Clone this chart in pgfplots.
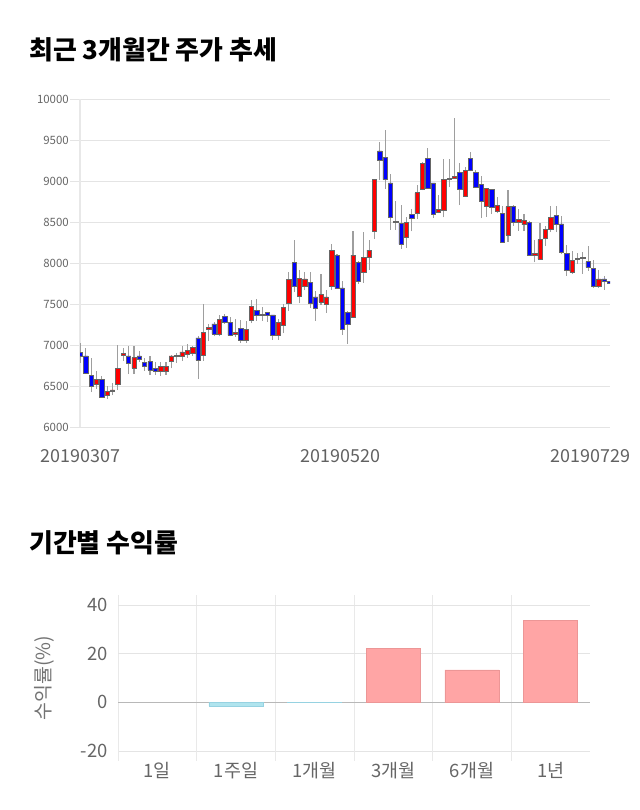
\documentclass[border=0pt]{standalone}
\usepackage{pgfplots}
\pgfplotsset{compat=1.18}
\usepackage{pgfplotstable}
\usepackage{fontspec}
\setmainfont{Noto Sans CJK KR}
\definecolor{candlered}{RGB}{255,0,0}
\definecolor{candleblue}{RGB}{0,0,255}
\definecolor{gridgray}{RGB}{228,228,228}
\definecolor{txtgray}{RGB}{102,102,102}
\definecolor{barred}{RGB}{255,165,165}
\definecolor{barredline}{RGB}{236,150,150}
\definecolor{barblue}{RGB}{176,228,238}
\definecolor{barblueline}{RGB}{150,210,225}

\pgfplotstableread{
i o h l c
0 6910 7030 6790 6870
1 6870 6970 6650 6660
2 6630 6850 6430 6500
3 6520 6690 6470 6580
4 6580 6630 6370 6370
5 6385 6500 6350 6440
6 6435 6540 6390 6455
7 6520 7000 6460 6720
8 6880 6970 6810 6900
9 6870 6990 6650 6780
10 6720 6990 6650 6850
11 6870 6930 6800 6830
12 6790 6850 6690 6740
13 6800 6870 6640 6700
14 6720 6800 6640 6680
15 6680 6800 6630 6740
16 6680 6800 6640 6740
17 6810 6880 6720 6870
18 6865 6910 6790 6880
19 6870 6990 6810 6920
20 6890 7010 6850 6940
21 6900 6990 6870 6970
22 7090 7110 6590 6820
23 6880 7500 6810 7160
24 7190 7260 7050 7215
25 7260 7280 7110 7140
26 7130 7370 7110 7320
27 7350 7380 7260 7280
28 7280 7350 7110 7120
29 7130 7325 7106 7160
30 7210 7310 7030 7060
31 7055 7300 7030 7195
32 7300 7550 7270 7470
33 7430 7560 7300 7370
34 7360 7470 7300 7375
35 7400 7405 7290 7360
36 7370 7375 7070 7120
37 7120 7317 7070 7280
38 7250 7500 7150 7460
39 7510 7900 7420 7800
40 8010 8290 7650 7720
41 7600 7920 7510 7820
42 7720 7890 7670 7810
43 7770 7900 7460 7510
44 7590 7660 7300 7450
45 7530 7870 7490 7620
46 7500 7670 7400 7590
47 7720 8240 7680 8160
48 8100 8110 7690 7690
49 7700 7790 7130 7200
50 7400 7420 7020 7260
51 7340 8400 7340 8100
52 8010 8030 7750 7780
53 7890 8380 7760 8070
54 8070 8280 7920 8160
55 8390 9020 8300 9020
56 9370 9480 9010 9260
57 9290 9630 8910 9020
58 8980 9090 8410 8560
59 8515 8760 8410 8500
60 8490 8710 8180 8230
61 8320 8560 8190 8500
62 8600 8660 8390 8550
63 8610 8950 8540 8860
64 8900 9230 8890 9220
65 9280 9410 8910 8920
66 8980 8980 8550 8600
67 8620 8830 8610 8660
68 8650 9270 8560 9020
69 9020 9270 8930 9040
70 9040 9770 9030 9055
71 9110 9220 8710 8900
72 8820 9170 8820 9130
73 9280 9360 9120 9130
74 9110 9140 8920 8930
75 8960 9070 8550 8760
76 8700 8910 8570 8910
77 8900 8900 8600 8680
78 8630 8810 8610 8710
79 8610 8700 8260 8260
80 8340 8890 8260 8690
81 8690 8710 8460 8500
82 8500 8660 8400 8540
83 8470 8600 8390 8520
84 8500 8510 8090 8100
85 8100 8280 8010 8120
86 8050 8490 8040 8290
87 8300 8460 8210 8410
88 8410 8700 8380 8560
89 8580 8700 8380 8470
90 8480 8580 8110 8130
91 8120 8220 7850 7910
92 7890 8150 7870 8040
93 8045 8130 7990 8060
94 8060 8140 7870 8075
95 8020 8210 7910 7950
96 7940 8040 7700 7720
97 7720 7920 7700 7810
98 7810 7840 7680 7775
99 7775 7780 7765 7762
}\candle

\pgfplotsset{
  candlegeom/.style={
    scale only axis, width=530bp, height=328bp,
    at={(80bp,-427.3bp)}, anchor=south west,
    xmin=-0.1, xmax=99.1, ymin=6000, ymax=10000,
    enlargelimits=false,
  }
}

\begin{document}
\begin{tikzpicture}
\useasboundingbox (0,0) rectangle (640bp,-810bp);

\node[anchor=west, inner sep=0pt, font=\fontsize{26}{30}\selectfont\bfseries] at (29bp,-50bp) {최근 3개월간 주가 추세};
\node[anchor=west, inner sep=0pt, font=\fontsize{26}{30}\selectfont\bfseries] at (29bp,-543bp) {기간별 수익률};

% candlestick: grid and wicks
\begin{axis}[candlegeom,
  axis lines*=left,
  x axis line style={draw=none},
  y axis line style={draw=black!9, line width=1.6bp},
  ytick={6000,6500,...,10000},
  scaled y ticks=false,
  ymajorgrids, grid style={draw=gridgray, line width=0.8bp},
  tick align=outside, major tick length=10bp,
  ytick style={draw=gridgray, line width=0.8bp},
  xtick style={draw=none},
  /pgf/number format/.cd, 1000 sep={}, assume math mode=true, /pgfplots/.cd,
  yticklabel style={font=\fontsize{11.5}{13}\selectfont, text=txtgray, inner sep=1pt},
  xtick={0,48.6}, xticklabels={20190307,20190520},
  extra x ticks={99}, extra x tick labels={20190729},
  extra x tick style={xticklabel style={anchor=north east, xshift=21bp}},
  xticklabel style={font=\fontsize{18}{21}\selectfont, text=black!62, inner sep=0pt, anchor=north, yshift=-12bp},
]
\addplot[draw=none, mark=none, forget plot,
  error bars/.cd, y dir=plus, y explicit, error mark=none,
  error bar style={draw=black!38, line width=1.1bp}]
  table[x=i, y=l, y error expr=\thisrow{h}-\thisrow{l}] {\candle};
\end{axis}

% candlestick bodies
\begin{axis}[candlegeom, hide axis, ybar stacked, bar width=4.3bp]
\addplot[draw=none, fill=none] table[x=i, y expr={min(\thisrow{o},\thisrow{c})}] {\candle};
\addplot[fill=candlered, draw=black!60, line width=0.6bp] table[x=i, y expr={max(\thisrow{c}-\thisrow{o},0)}] {\candle};
\addplot[fill=candleblue, draw=black!60, line width=0.6bp] table[x=i, y expr={max(\thisrow{o}-\thisrow{c},0)}] {\candle};
\end{axis}

% period returns
\begin{axis}[
  scale only axis, width=472bp, height=146bp,
  at={(118bp,-751bp)}, anchor=south west,
  xmin=-0.5, xmax=5.5, ymin=-20, ymax=40,
  axis line style={draw=none},
  ytick={-20,0,20,40}, ymajorgrids,
  grid style={draw=gridgray, line width=0.8bp},
  ytick style={draw=none},
  xtick={0,...,5}, xticklabels={1일,1주일,1개월,3개월,6개월,1년},
  minor xtick={-0.5,0.5,...,4.5}, xminorgrids,
  minor grid style={draw=gridgray!80, line width=0.8bp},
  tick align=outside, minor tick length=10bp, major tick length=0bp,
  major x tick style={draw=none},
  minor x tick style={draw=gridgray!80, line width=0.8bp},
  /pgf/number format/.cd, assume math mode=true, /pgfplots/.cd,
  yticklabel style={font=\fontsize{18.5}{21}\selectfont, text=txtgray, inner sep=0pt, xshift=-10bp},
  xticklabel style={font=\fontsize{18.5}{21}\selectfont, text=txtgray, inner sep=0pt, anchor=north, yshift=-11bp},
  ylabel={수익률(\%)},
  every axis y label/.style={at={(axis description cs:-0.155,0.5)}, rotate=90, anchor=center,
    font=\fontsize{19.5}{22}\selectfont, text=black!55},
  ybar, bar width=0.69, bar shift=0pt,
]
\draw[black!28, line width=0.9bp] (axis cs:-0.5,0) -- (axis cs:5.5,0);
\addplot[draw=none, fill=none] coordinates {(0,0)};
\addplot[fill=barblue, draw=barblueline, line width=0.7bp] coordinates {(1,-1.5) (2,-0.2)};
\addplot[fill=barred, draw=barredline, line width=0.7bp] coordinates {(3,22.2) (4,13.3) (5,33.7)};
\end{axis}
\end{tikzpicture}
\end{document}
